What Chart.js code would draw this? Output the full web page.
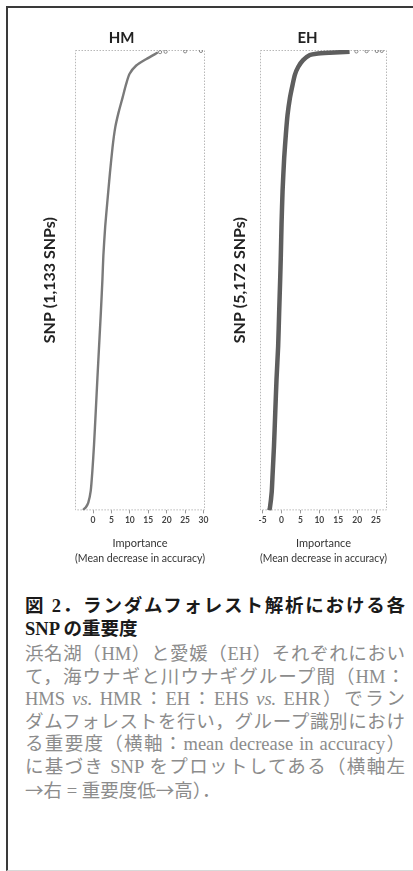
<!DOCTYPE html>
<html>
<head>
<meta charset="utf-8">
<script src="https://cdn.jsdelivr.net/npm/chart.js@4"></script>
<style>
  body { margin: 0; background: #fff; }
  #page { position: relative; width: 413px; height: 871px; overflow: hidden; }
  #frame {
    position: absolute; left: 6px; top: 6px; width: 420px; height: 862px;
    border-left: 2px solid #3a3a3a; border-top: 2px solid #3a3a3a; border-bottom: 1px solid #d8d8d8;
  }
  canvas { position: absolute; top: 20px; }
  #hmChart { left: 30px; }
  #ehChart { left: 220px; }
  #caption {
    position: absolute; left: 25px; width: 380px; top: 595px;
    font-family: "Liberation Serif", "Noto Sans CJK JP", serif;
    font-size: 18.5px; line-height: 22.5px;
  }
  .head { color: #1a1a1a; font-weight: bold; }
  .body { color: #8c8c8c; margin-top: 3px; }
  .j { text-align: justify; text-align-last: justify; }
  .cjk { font-family: "Noto Sans CJK JP", sans-serif; }
  i { font-style: italic; }
</style>
</head>
<body>
<div id="page">
  <div id="frame"></div>
  <canvas id="hmChart" width="190" height="550"></canvas>
  <canvas id="ehChart" width="190" height="550"></canvas>
  <div id="caption">
    <div class="head">
      <div class="j">図 2．ランダムフォレスト解析における各</div>
      <div>SNP の重要度</div>
    </div>
    <div class="body">
      <div class="j">浜名湖（HM）と愛媛（EH）それぞれにおい</div>
      <div class="j">て，海ウナギと川ウナギグループ間（HM：</div>
      <div class="j">HMS <i>vs.</i> HMR：EH：EHS <i>vs.</i> EHR）でラン</div>
      <div class="j">ダムフォレストを行い，グループ識別におけ</div>
      <div class="j">る重要度（横軸：mean decrease in accuracy）</div>
      <div class="j">に基づき SNP をプロットしてある（横軸左</div>
      <div><span class="cjk">→</span>右 = 重要度低<span class="cjk">→</span>高）．</div>
    </div>
  </div>
</div>
<script>
// SNP rank (bottom = 1) against importance
let hmRank = [1, 7, 19, 48, 96, 162, 245, 325, 407, 488, 570, 628, 700, 766, 832, 896, 945, 982, 1019, 1051, 1076, 1097, 1113, 1129];
let hmImportance = [-2.75, -2.0, -1.29, -0.63, -0.19, 0.27, 0.74, 1.18, 1.65, 2.12, 2.55, 2.8, 3.3, 3.93, 4.59, 5.3, 6.04, 6.95, 8.05, 8.98, 9.89, 11.73, 14.48, 17.6];
let hmTopRank = [1130, 1131, 1132, 1133];
let hmTopImportance = [18.2, 19.7, 25.0, 29.3];
let hmTicks = [0, 5, 10, 15, 20, 25, 30];

let ehRank = [1, 21, 207, 429, 724, 1096, 1474, 1846, 2219, 2591, 2850, 3222, 3595, 3967, 4231, 4453, 4639, 4789, 4903, 4991, 5069, 5125, 5141, 5151, 5162];
let ehImportance = [-3.3, -3.1, -2.6, -2.34, -2.0, -1.67, -1.33, -0.9, -0.64, -0.37, -0.2, 0.0, 0.27, 0.7, 1.14, 1.59, 2.2, 2.91, 3.52, 4.4, 5.7, 7.5, 9.2, 12.7, 18.0];
let ehTopRank = [5166, 5169, 5171, 5172];
let ehTopImportance = [19.8, 22.5, 25.2, 26.5];
let ehTicks = [-5, 0, 5, 10, 15, 20, 25];

function toPoints(xs, ys) {
  return xs.map((x, i) => ({ x: x, y: ys[i] }));
}

// dotted frame round the plot region, like R's box()
let boxPlugin = {
  id: "box",
  beforeDatasetsDraw(chart) {
    let a = chart.chartArea;
    let ctx = chart.ctx;
    ctx.save();
    ctx.strokeStyle = "#b8b8b8";
    ctx.lineWidth = 1;
    ctx.setLineDash([1.5, 1.5]);
    ctx.strokeRect(a.left + 0.5, a.top + 0.5, a.width - 1, a.height - 1);
    ctx.restore();
  }
};

function panel(id, opts) {
  return new Chart(document.getElementById(id).getContext("2d"), {
    type: "scatter",
    data: {
      datasets: [
        {
          data: toPoints(opts.importance, opts.rank),
          showLine: true,
          borderColor: opts.color,
          borderWidth: opts.width,
          tension: 0.2,
          pointRadius: 0,
        },
        {
          data: toPoints(opts.topImportance, opts.topRank),
          showLine: false,
          pointRadius: 1.6,
          pointBorderWidth: 1,
          pointBorderColor: "#888888",
          pointBackgroundColor: "rgba(0,0,0,0)",
        },
      ],
    },
    options: {
      responsive: false,
      animation: false,
      layout: { padding: { left: 8, right: opts.padRight, top: 0, bottom: 2.4 } },
      plugins: {
        legend: { display: false },
        tooltip: { enabled: false },
        title: {
          display: true,
          text: opts.title,
          color: "#222222",
          font: { family: "Lato", size: 15, weight: "bold", lineHeight: 1.2 },
          padding: { top: 9, bottom: 3 },
        },
      },
      scales: {
        x: {
          type: "linear",
          min: opts.xMin,
          max: opts.xMax,
          afterBuildTicks: (scale) => {
            scale.ticks = opts.ticks.map((v) => ({ value: v }));
          },
          ticks: {
            color: "#444444",
            padding: 2,
            autoSkip: false,
            maxRotation: 0,
            font: { family: "Lato", size: 8.5, weight: "bold", lineHeight: 1.2 },
          },
          grid: { display: true, drawOnChartArea: false, drawTicks: true, tickLength: 3, color: "#999999" },
          border: { display: false },
          title: {
            display: true,
            text: ["Importance", "(Mean decrease in accuracy)"],
            color: "#333333",
            font: { family: "Lato", size: 11, lineHeight: 1.36 },
            padding: { top: 8.1, bottom: 2 },
          },
        },
        y: {
          type: "linear",
          min: 0,
          max: opts.n * 1.002,
          ticks: { display: false },
          grid: { display: false, drawTicks: false },
          border: { display: false },
          title: {
            display: true,
            text: opts.yTitle,
            color: "#222222",
            font: { family: "Lato", size: 16, weight: "bold", lineHeight: 1.2 },
            padding: { top: 2.4, bottom: opts.yGap },
          },
        },
      },
    },
    plugins: [boxPlugin],
  });
}

let hmChart = panel("hmChart", {
  title: "HM",
  yTitle: "SNP (1,133 SNPs)",
  rank: hmRank,
  importance: hmImportance,
  topRank: hmTopRank,
  topImportance: hmTopImportance,
  ticks: hmTicks,
  xMin: -4.9,
  xMax: 30.4,
  n: 1133,
  color: "#7a7a7a",
  width: 2.4,
  padRight: 15,
  yGap: 15.4,
});

let ehChart = panel("ehChart", {
  title: "EH",
  yTitle: "SNP (5,172 SNPs)",
  rank: ehRank,
  importance: ehImportance,
  topRank: ehTopRank,
  topImportance: ehTopImportance,
  ticks: ehTicks,
  xMin: -5.7,
  xMax: 27.9,
  n: 5172,
  color: "#5e5e5e",
  width: 4.5,
  padRight: 23,
  yGap: 10.4,
});
</script>
</body>
</html>
